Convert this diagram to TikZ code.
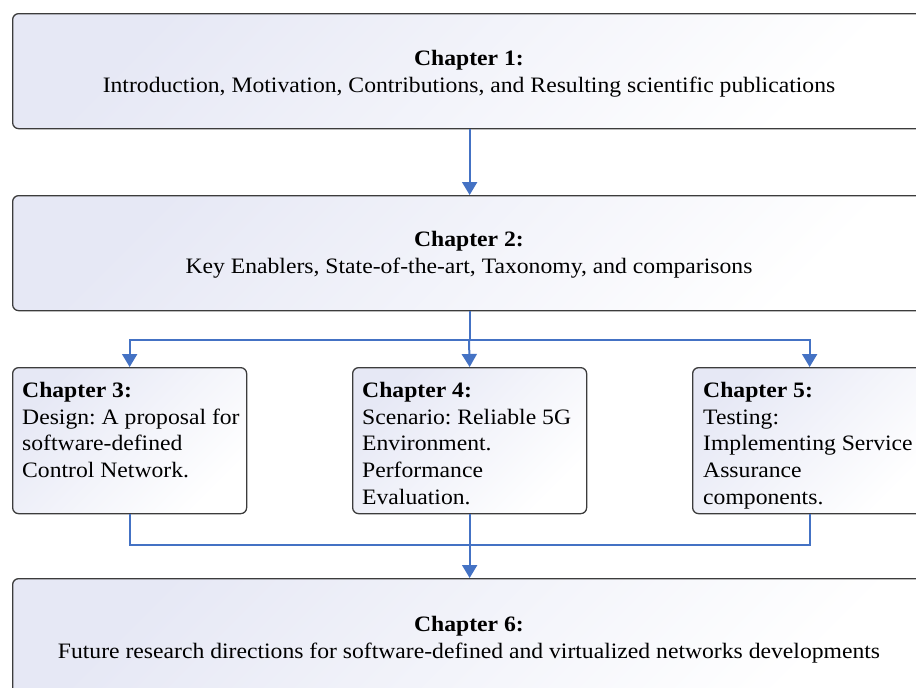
\documentclass[tikz,border=0pt]{standalone}
\usepackage{fontspec}
\setmainfont{Liberation Serif}[FakeStretch=1.075]
\usetikzlibrary{arrows.meta,calc}
\definecolor{boxtint}{RGB}{230,232,245}
\definecolor{edge}{RGB}{60,60,60}
\definecolor{flow}{RGB}{68,114,196}
\newcommand\chapfont{\fontsize{22}{26.7}\selectfont}
\tikzset{
  chapbox/.style={draw=edge, line width=1.3pt, rounded corners=6pt,
    top color=boxtint, bottom color=white, shading angle=45,
    inner sep=0pt, anchor=north west},
  conn/.style={draw=flow, line width=2pt},
  tip/.style={-{Triangle[width=15pt,length=13pt]}},
  widetext/.style={align=center, inner sep=0pt, font=\chapfont},
  sidetext/.style={align=left, anchor=north west, inner sep=0pt, font=\chapfont},
}
\frenchspacing
\begin{document}
\begin{tikzpicture}[x=1pt,y=-1pt]
\useasboundingbox (0,0) rectangle (916,688);
\clip (0,0) rectangle (916,688);

% chapter boxes
\node[chapbox, minimum width=914pt, minimum height=115pt] (c1) at (12,13) {};
\node[chapbox, minimum width=914pt, minimum height=115pt] (c2) at (12,195) {};
\node[chapbox, minimum width=234pt, minimum height=146pt] (c3) at (12,367) {};
\node[chapbox, minimum width=234pt, minimum height=146pt] (c4) at (352,367) {};
\node[chapbox, minimum width=234pt, minimum height=146pt] (c5) at (692,367) {};
\node[chapbox, minimum width=914pt, minimum height=120pt] (c6) at (12,578) {};

% box texts
\node[widetext] (t1) at (469,73.5) {\textbf{Chapter 1:}\\Introduction, Motivation, Contributions, and Resulting scientific publications};
\node[widetext] (t2) at (469,255) {\textbf{Chapter 2:}\\Key Enablers, State-of-the-art, Taxonomy, and comparisons};
\node[sidetext] (t3) at (22,382) {\textbf{Chapter 3:}\\Design: A proposal for\\software-defined\\Control Network.};
\node[sidetext] (t4) at (362,382) {\textbf{Chapter 4:}\\Scenario: Reliable 5G\\Environment.\\Performance\\Evaluation.};
\node[sidetext] (t5) at (703,382) {\textbf{Chapter 5:}\\Testing:\\Implementing Service\\Assurance\\components.};
\node[widetext] (t6) at (469,639.5) {\textbf{Chapter 6:}\\Future research directions for software-defined and virtualized networks developments};

% junction points
\coordinate (split) at (469,340);
\coordinate (merge) at (469,545);

% connectors
\draw[conn, tip] (c1.south) -- (c2.north);
\draw[conn] (c2.south) -- (c2.south |- split);
\draw[conn, tip] (split) -| (c3.north);
\draw[conn, tip] (split) -- (c4.north);
\draw[conn, tip] (split) -| (c5.north);
\draw[conn] (c3.south) |- (merge);
\draw[conn] (c5.south) |- (merge);
\draw[conn, tip] (c4.south) -- (c6.north);
\end{tikzpicture}
\end{document}
